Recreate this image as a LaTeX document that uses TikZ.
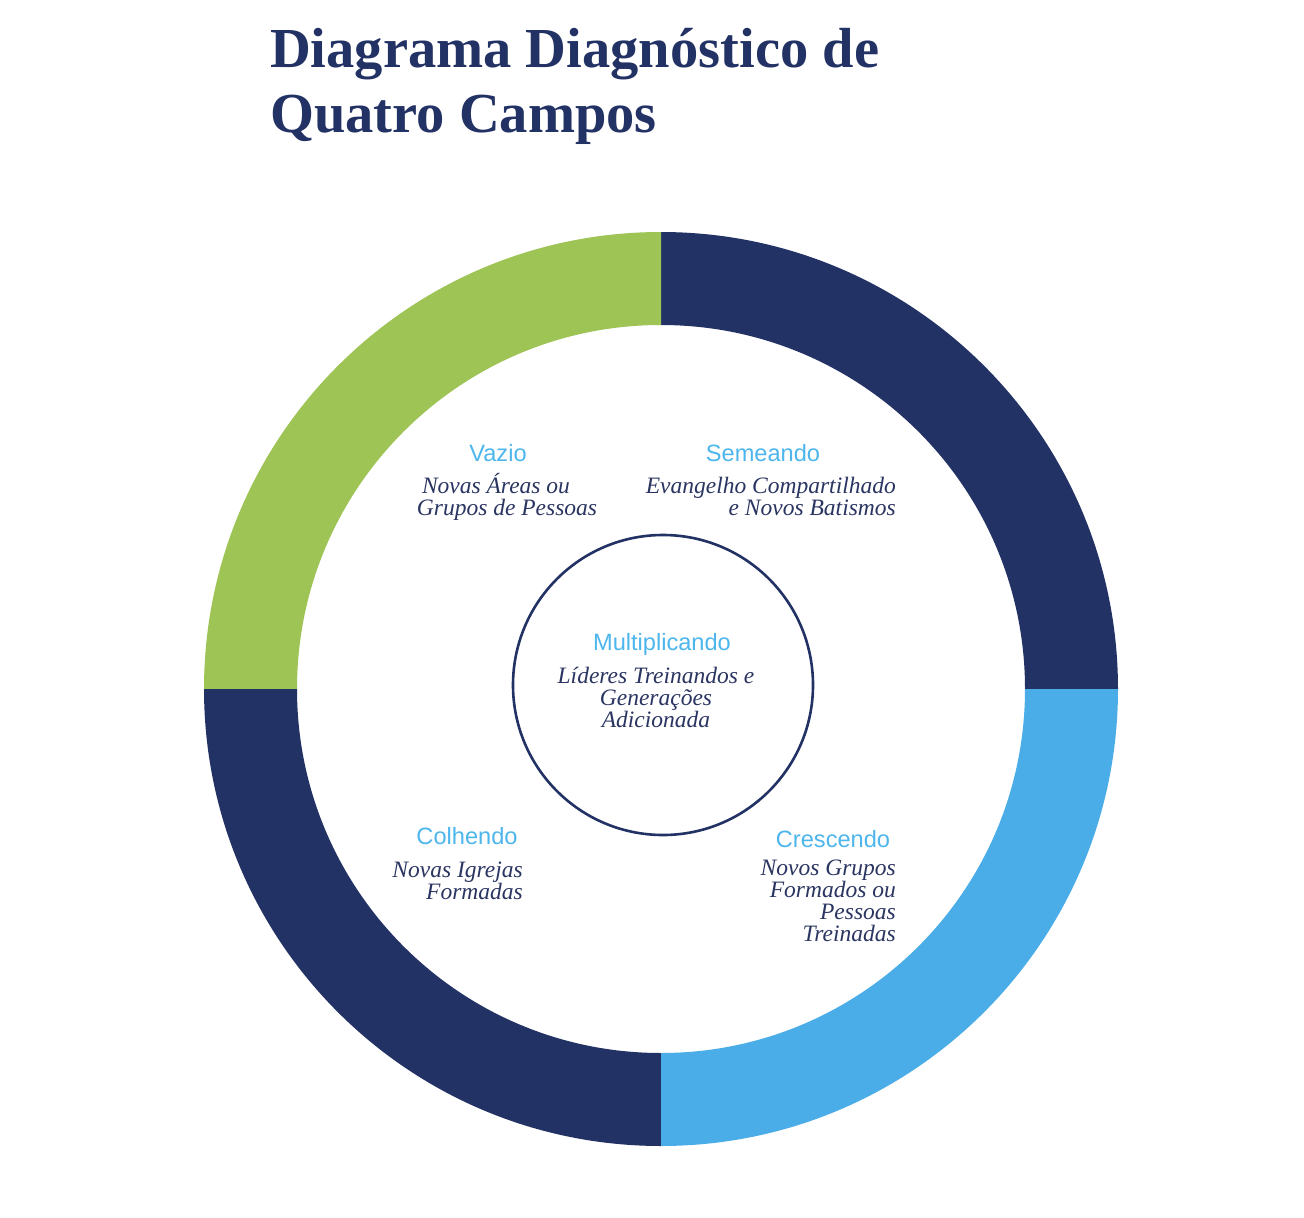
\documentclass[tikz,border=0pt]{standalone}
\usepackage{fontspec}
\setmainfont{Liberation Serif}
\newfontfamily\labelsans{Liberation Sans}
\usetikzlibrary{calc}
\definecolor{navy}{HTML}{233264}
\definecolor{leaf}{HTML}{9EC456}
\definecolor{sky}{HTML}{4AADE8}
\definecolor{labelblue}{HTML}{4DB6EC}
\definecolor{textnavy}{HTML}{2B3561}
\tikzset{
  heading/.style={font={\labelsans\fontsize{23.6}{23.6}\selectfont}, text=labelblue, inner sep=0pt},
  desc/.style={font={\itshape\fontsize{23.5}{21.7}\selectfont}, text=textnavy, inner sep=0pt},
  titletext/.style={font={\bfseries\fontsize{56.5}{65}\selectfont}, text=navy, inner sep=0pt, align=left},
}
\begin{document}
\begin{tikzpicture}[x=1pt,y=1pt]
\useasboundingbox (0,0) rectangle (1304,-1218);
\fill[white] (0,0) rectangle (1304,-1218);
\coordinate (c) at (661,-689);
% ring
\foreach \a/\col in {0/navy,90/leaf,180/navy,270/sky}{
  \fill[\col] ($(c)+(\a:457)$) arc[start angle=\a, delta angle=90, radius=457]
     -- ($(c)+(\a+90:364)$) arc[start angle=\a+90, delta angle=-90, radius=364] -- cycle;
}
% title (anchor base = baseline of last line)
\node[titletext, anchor=base west] (title) at (270,-132) {Diagrama Diagnóstico de\\Quatro Campos};
% inner circle
\node[circle, draw=navy, line width=2.6pt, minimum size=300pt, inner sep=0pt] (inner) at (663,-685) {};
% labels
\node[heading, anchor=base] (vazio) at (498,-461) {Vazio};
\node[desc, anchor=base, align=center] (vaziod) at (507,-515) {Novas Áreas ou\hspace*{22pt}\\Grupos de Pessoas};
\node[heading, anchor=base] (semeando) at (763,-461) {Semeando};
\node[desc, anchor=base east, align=right] (semeandod) at (896,-515) {Evangelho Compartilhado\\e Novos Batismos};
\node[heading, anchor=base] (multi) at (662,-650) {Multiplicando};
\node[desc, anchor=base, align=center] (multid) at (656,-727) {Líderes Treinandos e\\Generações\\Adicionada};
\node[heading, anchor=base] (colhendo) at (467,-844) {Colhendo};
\node[desc, anchor=base east, align=right] (colhendod) at (523,-899) {Novas Igrejas\\Formadas};
\node[heading, anchor=base] (crescendo) at (833,-847) {Crescendo};
\node[desc, anchor=base east, align=right] (crescendod) at (896,-941) {Novos Grupos\\Formados ou\\Pessoas\\Treinadas};
\end{tikzpicture}
\end{document}
